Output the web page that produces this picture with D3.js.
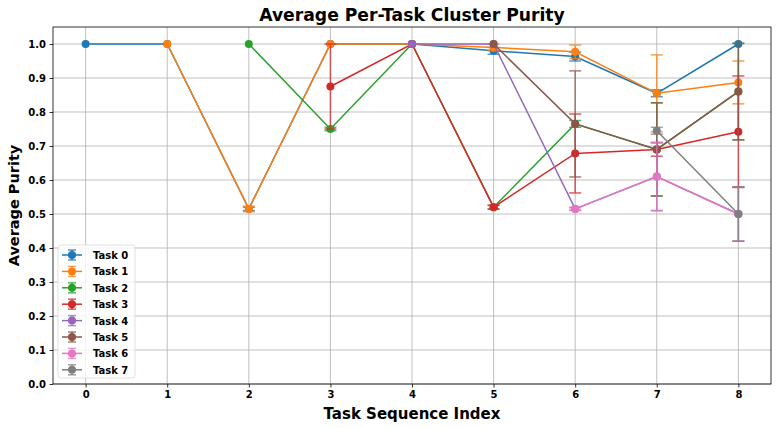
<!DOCTYPE html>
<html>
<head>
<meta charset="utf-8">
<script src="https://cdn.jsdelivr.net/npm/d3@7"></script>
<style>
  body { margin: 0; background: #fff; }
  text { font-family: "DejaVu Sans", sans-serif; font-weight: bold; }
</style>
</head>
<body>
<script>
var w = 779;
var h = 428;
var margin = {top: 27, right: 8, bottom: 44, left: 53};

var taskNames = ["Task 0", "Task 1", "Task 2", "Task 3", "Task 4", "Task 5", "Task 6", "Task 7"];
var colors = ["#1f77b4", "#ff7f0e", "#2ca02c", "#d62728", "#9467bd", "#8c564b", "#e377c2", "#7f7f7f"];
var xTicks = [0, 1, 2, 3, 4, 5, 6, 7, 8];
var yTicks = [0, 0.1, 0.2, 0.3, 0.4, 0.5, 0.6, 0.7, 0.8, 0.9, 1.0];

// purity per task, starting at the sequence index where the task appears
var task0 = [1.0, 1.0, 0.515, 1.0, 1.0, 0.98, 0.963, 0.855, 1.0];
var task1 = [1.0, 0.515, 1.0, 1.0, 0.99, 0.977, 0.855, 0.887];
var task2 = [1.0, 0.75, 1.0, 0.52, 0.765, 0.69, 0.86];
var task3 = [0.875, 1.0, 0.52, 0.678, 0.69, 0.742];
var task4 = [1.0, 1.0, 0.515, 0.61, 0.5];
var task5 = [1.0, 0.765, 0.69, 0.86];
var task6 = [0.515, 0.61, 0.5];
var task7 = [0.745, 0.5];

// standard deviations
var err0 = [0, 0, 0.005, 0, 0, 0.01, 0.013, 0.01, 0];
var err1 = [0, 0.008, 0, 0, 0.01, 0.02, 0.113, 0.063];
var err2 = [0, 0.005, 0, 0.005, 0.01, 0.137, 0.142];
var err3 = [0.125, 0, 0.006, 0.116, 0.02, 0.164];
var err4 = [0, 0, 0.004, 0.1, 0.08];
var err5 = [0, 0.156, 0.137, 0.142];
var err6 = [0.004, 0.1, 0.08];
var err7 = [0.01, 0.08];

var allTasks = [task0, task1, task2, task3, task4, task5, task6, task7];
var allErrs = [err0, err1, err2, err3, err4, err5, err6, err7];

var series = allTasks.map(function(vals, t) {
    return {
        name: taskNames[t],
        color: colors[t],
        points: vals.map(function(v, i) {
            return {x: t + i, y: v, e: allErrs[t][i]};
        })
    };
});

var svg = d3.select("body").append("svg").attr("width", w).attr("height", h);

var xScale = d3.scaleLinear()
    .domain([-0.4, 8.4])
    .range([margin.left, w - margin.right]);

var yScale = d3.scaleLinear()
    .domain([0, 1.05])
    .range([h - margin.bottom, margin.top]);

// grid
svg.append("g")
    .selectAll("line.vg")
    .data(xTicks).enter()
    .append("line")
    .attr("x1", d => xScale(d)).attr("x2", d => xScale(d))
    .attr("y1", margin.top).attr("y2", h - margin.bottom)
    .attr("stroke", "#b0b0b0").attr("stroke-width", 0.8);

svg.append("g")
    .selectAll("line.hg")
    .data(yTicks).enter()
    .append("line")
    .attr("y1", d => yScale(d)).attr("y2", d => yScale(d))
    .attr("x1", margin.left).attr("x2", w - margin.right)
    .attr("stroke", "#b0b0b0").attr("stroke-width", 0.8);

var xAxis = d3.axisBottom(xScale).tickValues(xTicks).tickSize(3.5).tickPadding(3.5).tickFormat(d3.format("d"));
var yAxis = d3.axisLeft(yScale).tickValues(yTicks).tickSize(3.5).tickPadding(3.5).tickFormat(d3.format(".1f"));

var gx = svg.append("g")
    .attr("transform", "translate(0," + (h - margin.bottom) + ")")
    .call(xAxis);
var gy = svg.append("g")
    .attr("transform", "translate(" + margin.left + ",0)")
    .call(yAxis);
[gx, gy].forEach(function(g) {
    g.select(".domain").remove();
    g.selectAll("text").attr("font-size", "10px").attr("fill", "#000");
    g.selectAll("line").attr("stroke", "#000").attr("stroke-width", 0.8);
});

var line = d3.line().x(d => xScale(d.x)).y(d => yScale(d.y));

var plot = svg.append("g");

series.forEach(function(s) {
    var g = plot.append("g");
    // error bars
    var eb = g.selectAll("g.err")
        .data(s.points.filter(p => p.e > 0)).enter()
        .append("g")
        .attr("stroke", s.color)
        .attr("stroke-width", 1.5)
        .attr("opacity", 0.75);
    eb.append("line")
        .attr("x1", d => xScale(d.x)).attr("x2", d => xScale(d.x))
        .attr("y1", d => yScale(d.y - d.e)).attr("y2", d => yScale(d.y + d.e));
    eb.append("line")
        .attr("x1", d => xScale(d.x) - 6).attr("x2", d => xScale(d.x) + 6)
        .attr("y1", d => yScale(d.y - d.e)).attr("y2", d => yScale(d.y - d.e));
    eb.append("line")
        .attr("x1", d => xScale(d.x) - 6).attr("x2", d => xScale(d.x) + 6)
        .attr("y1", d => yScale(d.y + d.e)).attr("y2", d => yScale(d.y + d.e));

    g.append("path")
        .datum(s.points)
        .attr("d", line)
        .attr("fill", "none")
        .attr("stroke", s.color)
        .attr("stroke-width", 1.5);

    g.selectAll("circle")
        .data(s.points).enter()
        .append("circle")
        .attr("cx", d => xScale(d.x))
        .attr("cy", d => yScale(d.y))
        .attr("r", 4)
        .attr("fill", s.color);
});

// frame
svg.append("rect")
    .attr("x", margin.left).attr("y", margin.top)
    .attr("width", w - margin.left - margin.right)
    .attr("height", h - margin.top - margin.bottom)
    .attr("fill", "none").attr("stroke", "#000").attr("stroke-width", 0.8);

// titles
svg.append("text")
    .attr("x", (margin.left + w - margin.right) / 2)
    .attr("y", 21)
    .attr("text-anchor", "middle")
    .attr("font-size", "17.2px")
    .text("Average Per-Task Cluster Purity");

svg.append("text")
    .attr("x", (margin.left + w - margin.right) / 2)
    .attr("y", 419)
    .attr("text-anchor", "middle")
    .attr("font-size", "15px")
    .text("Task Sequence Index");

svg.append("text")
    .attr("transform", "translate(19," + ((margin.top + h - margin.bottom) / 2) + ") rotate(-90)")
    .attr("text-anchor", "middle")
    .attr("font-size", "14.5px")
    .text("Average Purity");

// legend
var legend = svg.append("g").attr("transform", "translate(58,245)");
legend.append("rect")
    .attr("width", 77).attr("height", 133).attr("rx", 3)
    .attr("fill", "#fff").attr("fill-opacity", 0.8)
    .attr("stroke", "#d9d9d9").attr("stroke-width", 0.8);

var items = legend.selectAll("g.item")
    .data(series).enter()
    .append("g")
    .attr("transform", (d, i) => "translate(0," + (10 + i * 16.4) + ")");
items.append("line")
    .attr("x1", 4).attr("x2", 24).attr("y1", 0).attr("y2", 0)
    .attr("stroke", d => d.color).attr("stroke-width", 1.5);
items.append("line")
    .attr("x1", 14).attr("x2", 14).attr("y1", -5).attr("y2", 5)
    .attr("stroke", d => d.color).attr("stroke-width", 1.5).attr("opacity", 0.75);
items.append("line")
    .attr("x1", 10).attr("x2", 18).attr("y1", -5).attr("y2", -5)
    .attr("stroke", d => d.color).attr("stroke-width", 1.5).attr("opacity", 0.75);
items.append("line")
    .attr("x1", 10).attr("x2", 18).attr("y1", 5).attr("y2", 5)
    .attr("stroke", d => d.color).attr("stroke-width", 1.5).attr("opacity", 0.75);
items.append("circle")
    .attr("cx", 14).attr("cy", 0).attr("r", 4)
    .attr("fill", d => d.color);
items.append("text")
    .attr("x", 35).attr("y", 4)
    .attr("font-size", "10px")
    .text(d => d.name);
</script>
</body>
</html>
